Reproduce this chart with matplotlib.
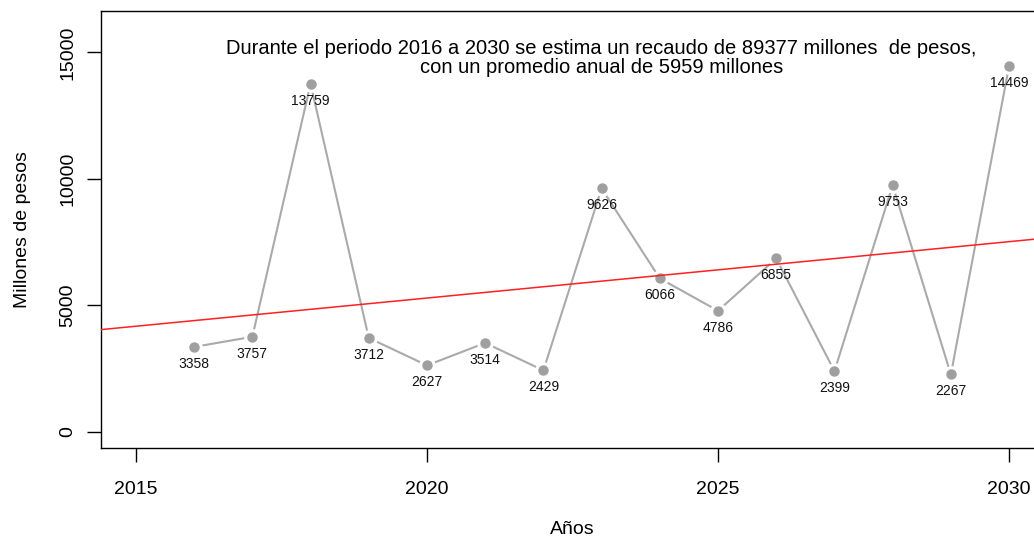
import matplotlib
matplotlib.use("Agg")
import matplotlib.pyplot as plt
import numpy as np

years = [2016, 2017, 2018, 2019, 2020, 2021, 2022, 2023, 2024, 2025, 2026, 2027, 2028, 2029, 2030]
recaudo = [3358, 3757, 13759, 3712, 2627, 3514, 2429, 9626, 6066, 4786, 6855, 2399, 9753, 2267, 14469]
x_ticks = [2015, 2020, 2025, 2030]
y_ticks = [0, 5000, 10000, 15000]
texto = ("Durante el periodo 2016 a 2030 se estima un recaudo de 89377 millones  de pesos,\n"
         "con un promedio anual de 5959 millones")

plt.rcParams['font.family'] = ['Liberation Sans', 'DejaVu Sans']

W, H = 1034, 541
fig = plt.figure(figsize=(W / 100, H / 100), dpi=100)
ax = fig.add_axes([101 / W, (H - 448) / H, (1044 - 101) / W, (448 - 11) / H])

gris = '#9f9f9f'
# line with gaps around points (like R type="b")
ax.plot(years, recaudo, color='#aaaaaa', lw=1.5, zorder=1)
ax.plot(years, recaudo, ls='none', marker='o', ms=11, mfc='white', mec='white', zorder=2)
ax.plot(years, recaudo, ls='none', marker='o', ms=6.5, mfc=gris, mec=gris, zorder=3)

for x, y in zip(years, recaudo):
    ax.annotate(str(y), (x, y), xytext=(0, -7), textcoords='offset points',
                ha='center', va='top', fontsize=10, color='#111111', zorder=4)

# regression line
b, a = np.polyfit(years, recaudo, 1)
xs = np.array([2010, 2035])
ax.plot(xs, a + b * xs, color='#ff2020', lw=1.1, zorder=5)

ax.text(2023, 14800, texto, ha='center', va='center', fontsize=14.5, linespacing=1.0)

ax.set_xlim(2014.4, 2030.6)
ax.set_ylim(-640, 16640)
ax.set_xticks(x_ticks)
ax.set_yticks(y_ticks)
ax.set_yticklabels([str(v) for v in y_ticks], rotation=90, va='center')
ax.tick_params(axis='both', length=10, width=1, labelsize=14, pad=8)
ax.tick_params(axis='x', pad=14)
for s in ax.spines.values():
    s.set_linewidth(1)

ax.set_xlabel('Años', fontsize=14, labelpad=16)
ax.set_ylabel('Millones de pesos', fontsize=14, labelpad=20)

fig.savefig('out.png', dpi=100)
